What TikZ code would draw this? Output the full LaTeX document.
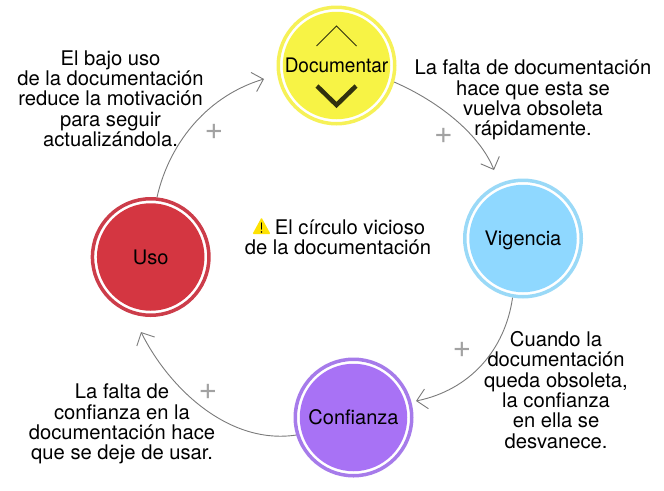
\documentclass[tikz,border=0pt]{standalone}
\usepackage{fontspec}
\setmainfont{TeX Gyre Heros}
\usetikzlibrary{arrows.meta}
\definecolor{cyel}{HTML}{F7F345}
\definecolor{cyelr}{HTML}{F6F157}
\definecolor{cblu}{HTML}{8FD8FF}
\definecolor{cblur}{HTML}{9AD9F7}
\definecolor{cpur}{HTML}{A872F5}
\definecolor{cpurr}{HTML}{A67BEA}
\definecolor{cred}{HTML}{D43641}
\definecolor{credr}{HTML}{CC3D4A}
\definecolor{cgrey}{HTML}{7A7A7A}
\definecolor{cplus}{HTML}{A2A2A2}
\tikzset{x=1pt,y=-1pt,
 disc/.style={circle,minimum size=107.5pt,inner sep=0pt,text height=14.4pt,text depth=0pt,font=\fontsize{20}{24}\selectfont},
 ringc/.style={circle,minimum size=116.5pt,inner sep=0pt,line width=3.5pt,fill=white},
 link/.style={draw=cgrey,line width=0.9pt,-{Straight Barb[length=10pt,width=20pt,line width=0.9pt]}},
 lab/.style={align=center,font=\fontsize{20.2}{20.3}\selectfont,inner sep=0pt},
 plus/.style={font=\fontsize{32}{32}\selectfont,text=cplus,inner sep=0pt}}
\begin{document}
\begin{tikzpicture}
\useasboundingbox (0,0) rectangle (664,490);
\node[ringc,draw=cyelr] (rd) at (336.5,65.5) {};
\node[disc,fill=cyel] (d) at (336.5,65.5) {\scalebox{0.95}[1]{Documentar}};
\node[ringc,draw=cblur] (rv) at (523,238.5) {};
\node[disc,fill=cblu] (v) at (523,238.5) {Vigencia};
\node[ringc,draw=cpurr] (rc) at (353.5,417.5) {};
\node[disc,fill=cpur] (c) at (353.5,417.5) {Confianza};
\node[ringc,draw=credr] (ru) at (150.7,257) {};
\node[disc,fill=cred] (u) at (150.7,257) {Uso};
\coordinate (dup1) at (316.5,46);
\coordinate (dup2) at (336.5,26);
\coordinate (dup3) at (356.5,46);
\coordinate (ddn1) at (317,86);
\coordinate (ddn2) at (336.5,105);
\coordinate (ddn3) at (356,86);
\draw[line width=1pt,draw=black!80!cyel] (dup1) -- (dup2) -- (dup3);
\draw[line width=4.5pt,draw=black!80!cyel] (ddn1) -- (ddn2) -- (ddn3);
\draw[link] (rd.-16) .. controls (440,102) and (480,135) .. (494,170);
\draw[link] (rv.-100) .. controls (505,350) and (470,390) .. (416,401);
\draw[link] (rc.197) .. controls (230,445) and (170,390) .. (141,332);
\draw[link] (ru.84) .. controls (170,140) and (210,95) .. (264,79);
\node[plus] (p1) at (443.5,136) {+};
\node[plus] (p2) at (462,350) {+};
\node[plus] (p3) at (208,392) {+};
\node[plus] (p4) at (214,132) {+};
\node[lab] (l1) at (533,100) {La falta de documentación\\hace que esta se\\vuelva obsoleta\\rápidamente.};
\node[lab] (l2) at (556,390) {Cuando la\\documentación\\queda obsoleta,\\la confianza\\en ella se\\desvanece.};
\node[lab] (l3) at (122,424) {La falta de\\confianza en la\\documentación hace\\que se deje de usar.};
\node[lab] (l4) at (110.5,98.5) {El bajo uso\\de la documentación\\reduce la motivación\\para seguir\\actualizándola.};
\node[lab] (l5) at (338,237) {\hspace*{24pt}El círculo vicioso\\de la documentación};
\fill[yellow!85!orange,rounded corners=1pt] (252.5,234) -- (270.5,234) -- (261.5,217.5) -- cycle;
\draw[line width=1.5pt,line cap=round] (261.5,223) -- (261.5,229);
\fill (261.5,232) circle (0.9pt);
\end{tikzpicture}
\end{document}
